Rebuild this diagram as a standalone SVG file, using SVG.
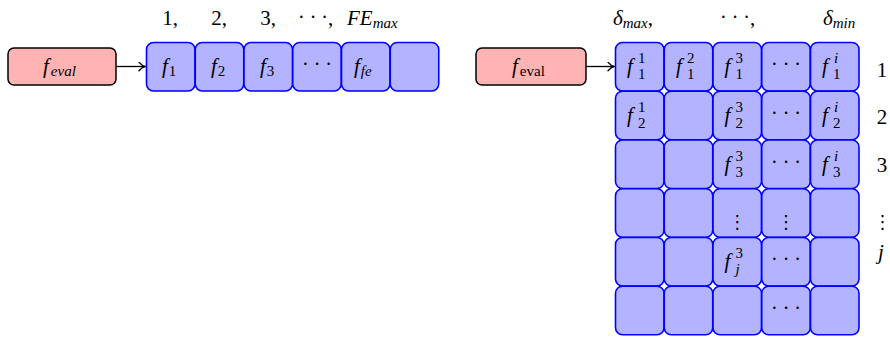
<svg xmlns="http://www.w3.org/2000/svg" width="890" height="337" viewBox="0 0 890 337">
<defs>
<marker id="tip" viewBox="-6 -5 8 10" markerWidth="8" markerHeight="10" refX="1" refY="0" markerUnits="userSpaceOnUse" orient="auto">
<path d="M-5,-4.2 C-3,-2 -0.5,-0.4 1,0 C-0.5,0.4 -3,2 -5,4.2" fill="none" stroke="#000" stroke-width="1.3" stroke-linecap="round"/>
</marker>
<style>
.t{font-family:"Liberation Serif","Times New Roman",serif;font-size:21px;fill:#000}
.i{font-style:italic}
.s{font-size:15px}
.c{text-anchor:middle}
.cell{fill:#b3b3ff;stroke:#0000ff;stroke-width:1.6}
.ev{fill:#ffb3b3;stroke:#000;stroke-width:1.5}
.dots{font-family:"Liberation Serif",serif;font-size:20px;text-anchor:middle;fill:#000;white-space:pre}
.vd{font-family:"DejaVu Sans",sans-serif;font-size:18px;text-anchor:middle;fill:#000}
.arr{stroke:#000;stroke-width:1.3;fill:none}
</style>
</defs>
<rect width="890" height="337" fill="#fff"/>

<g id="labels-top-left">
<text class="t c" x="170" y="25">1,</text>
<text class="t c" x="219" y="25">2,</text>
<text class="t c" x="268" y="25">3,</text>
<text class="t" x="298" y="25"><tspan font-size="20" dy="-1">· · ·</tspan><tspan dy="1">,</tspan></text>
<text class="t" x="347" y="25"><tspan class="i">FE</tspan><tspan class="i s" dy="3">max</tspan></text>
</g>

<g id="feval-left">
<rect class="ev" x="8" y="48" width="108" height="37" rx="6"/>
<text class="t" x="43" y="73"><tspan class="i">f</tspan><tspan class="i s" dy="3" dx="2">eval</tspan></text>
</g>

<g id="feval-right">
<rect class="ev" x="476" y="48" width="110" height="37" rx="6"/>
<text class="t" x="512" y="73"><tspan class="i">f</tspan><tspan class="s" dy="3" dx="2">eval</tspan></text>
</g>

<g id="connectors">
<path class="arr" d="M116,66.5 H145" marker-end="url(#tip)"/>
<path class="arr" d="M586,66.5 H614" marker-end="url(#tip)"/>
</g>

<g id="row-left">
<g id="L1"><rect class="cell" x="146.5" y="42.5" width="48.5" height="48.5" rx="7"/><text class="t" x="162" y="73"><tspan class="i">f</tspan><tspan class="s" dy="3" dx="1">1</tspan></text></g>
<g id="L2"><rect class="cell" x="195.25" y="42.5" width="48.5" height="48.5" rx="7"/><text class="t" x="211" y="73"><tspan class="i">f</tspan><tspan class="s" dy="3" dx="1">2</tspan></text></g>
<g id="L3"><rect class="cell" x="244" y="42.5" width="48.5" height="48.5" rx="7"/><text class="t" x="260" y="73"><tspan class="i">f</tspan><tspan class="s" dy="3" dx="1">3</tspan></text></g>
<g id="L4"><rect class="cell" x="292.75" y="42.5" width="48.5" height="48.5" rx="7"/><text class="dots" x="317" y="71">· · ·</text></g>
<g id="L5"><rect class="cell" x="341.5" y="42.5" width="48.5" height="48.5" rx="7"/><text class="t" x="354" y="73"><tspan class="i">f</tspan><tspan class="i s" dy="3" dx="1">fe</tspan></text></g>
<g id="L6"><rect class="cell" x="390.25" y="42.5" width="48.5" height="48.5" rx="7"/></g>
</g>

<g id="labels-top-right">
<text class="t" x="613" y="25"><tspan class="i">δ</tspan><tspan class="i s" dy="3">max</tspan><tspan dy="-3">,</tspan></text>
<text class="t" x="720" y="25"><tspan font-size="20" dy="-1">· · ·</tspan><tspan dy="1">,</tspan></text>
<text class="t" x="823" y="25"><tspan class="i">δ</tspan><tspan class="i s" dy="3">min</tspan></text>
</g>

<g id="labels-rows">
<text class="t c" x="882" y="77">1</text>
<text class="t c" x="882" y="124">2</text>
<text class="t c" x="882" y="172">3</text>
<text class="vd" x="882.5" y="228">⋮</text>
<text class="t i c" x="881" y="259">j</text>
</g>

<g id="grid">
<!-- row 1 -->
<g id="r1c1"><rect class="cell" x="615.5" y="42.5" width="48.5" height="48.5" rx="7"/><text class="t i" x="627" y="73">f</text><text class="t s" x="638" y="63">1</text><text class="t s" x="638" y="79">1</text></g>
<g id="r1c2"><rect class="cell" x="664.25" y="42.5" width="48.5" height="48.5" rx="7"/><text class="t i" x="676" y="73">f</text><text class="t s" x="687" y="63">2</text><text class="t s" x="687" y="79">1</text></g>
<g id="r1c3"><rect class="cell" x="713" y="42.5" width="48.5" height="48.5" rx="7"/><text class="t i" x="724.5" y="73">f</text><text class="t s" x="735.5" y="63">3</text><text class="t s" x="735.5" y="79">1</text></g>
<g id="r1c4"><rect class="cell" x="761.75" y="42.5" width="48.5" height="48.5" rx="7"/><text class="dots" x="786" y="71">· · ·</text></g>
<g id="r1c5"><rect class="cell" x="810.5" y="42.5" width="48.5" height="48.5" rx="7"/><text class="t i" x="822" y="73">f</text><text class="t s i" x="834" y="63">i</text><text class="t s" x="833" y="79">1</text></g>
<!-- row 2 -->
<g id="r2c1"><rect class="cell" x="615.5" y="91.25" width="48.5" height="48.5" rx="7"/><text class="t i" x="627" y="121.75">f</text><text class="t s" x="638" y="111.75">1</text><text class="t s" x="638" y="127.75">2</text></g>
<g id="r2c2"><rect class="cell" x="664.25" y="91.25" width="48.5" height="48.5" rx="7"/></g>
<g id="r2c3"><rect class="cell" x="713" y="91.25" width="48.5" height="48.5" rx="7"/><text class="t i" x="724.5" y="121.75">f</text><text class="t s" x="735.5" y="111.75">3</text><text class="t s" x="735.5" y="127.75">2</text></g>
<g id="r2c4"><rect class="cell" x="761.75" y="91.25" width="48.5" height="48.5" rx="7"/><text class="dots" x="786" y="119.75">· · ·</text></g>
<g id="r2c5"><rect class="cell" x="810.5" y="91.25" width="48.5" height="48.5" rx="7"/><text class="t i" x="822" y="121.75">f</text><text class="t s i" x="834" y="111.75">i</text><text class="t s" x="833" y="127.75">2</text></g>
<!-- row 3 -->
<g id="r3c1"><rect class="cell" x="615.5" y="140" width="48.5" height="48.5" rx="7"/></g>
<g id="r3c2"><rect class="cell" x="664.25" y="140" width="48.5" height="48.5" rx="7"/></g>
<g id="r3c3"><rect class="cell" x="713" y="140" width="48.5" height="48.5" rx="7"/><text class="t i" x="724.5" y="170.5">f</text><text class="t s" x="735.5" y="160.5">3</text><text class="t s" x="735.5" y="176.5">3</text></g>
<g id="r3c4"><rect class="cell" x="761.75" y="140" width="48.5" height="48.5" rx="7"/><text class="dots" x="786" y="168.5">· · ·</text></g>
<g id="r3c5"><rect class="cell" x="810.5" y="140" width="48.5" height="48.5" rx="7"/><text class="t i" x="822" y="170.5">f</text><text class="t s i" x="834" y="160.5">i</text><text class="t s" x="833" y="176.5">3</text></g>
<!-- row 4 -->
<g id="r4c1"><rect class="cell" x="615.5" y="188.75" width="48.5" height="48.5" rx="7"/></g>
<g id="r4c2"><rect class="cell" x="664.25" y="188.75" width="48.5" height="48.5" rx="7"/></g>
<g id="r4c3"><rect class="cell" x="713" y="188.75" width="48.5" height="48.5" rx="7"/><text class="vd" x="737.25" y="228">⋮</text></g>
<g id="r4c4"><rect class="cell" x="761.75" y="188.75" width="48.5" height="48.5" rx="7"/><text class="vd" x="786" y="228">⋮</text></g>
<g id="r4c5"><rect class="cell" x="810.5" y="188.75" width="48.5" height="48.5" rx="7"/></g>
<!-- row 5 -->
<g id="r5c1"><rect class="cell" x="615.5" y="237.5" width="48.5" height="48.5" rx="7"/></g>
<g id="r5c2"><rect class="cell" x="664.25" y="237.5" width="48.5" height="48.5" rx="7"/></g>
<g id="r5c3"><rect class="cell" x="713" y="237.5" width="48.5" height="48.5" rx="7"/><text class="t i" x="724.5" y="268">f</text><text class="t s" x="735.5" y="258">3</text><text class="t s i" x="735.5" y="274">j</text></g>
<g id="r5c4"><rect class="cell" x="761.75" y="237.5" width="48.5" height="48.5" rx="7"/><text class="dots" x="786" y="266">· · ·</text></g>
<g id="r5c5"><rect class="cell" x="810.5" y="237.5" width="48.5" height="48.5" rx="7"/></g>
<!-- row 6 -->
<g id="r6c1"><rect class="cell" x="615.5" y="286.25" width="48.5" height="48.5" rx="7"/></g>
<g id="r6c2"><rect class="cell" x="664.25" y="286.25" width="48.5" height="48.5" rx="7"/></g>
<g id="r6c3"><rect class="cell" x="713" y="286.25" width="48.5" height="48.5" rx="7"/></g>
<g id="r6c4"><rect class="cell" x="761.75" y="286.25" width="48.5" height="48.5" rx="7"/><text class="dots" x="786" y="315">· · ·</text></g>
<g id="r6c5"><rect class="cell" x="810.5" y="286.25" width="48.5" height="48.5" rx="7"/></g>
</g>
</svg>
